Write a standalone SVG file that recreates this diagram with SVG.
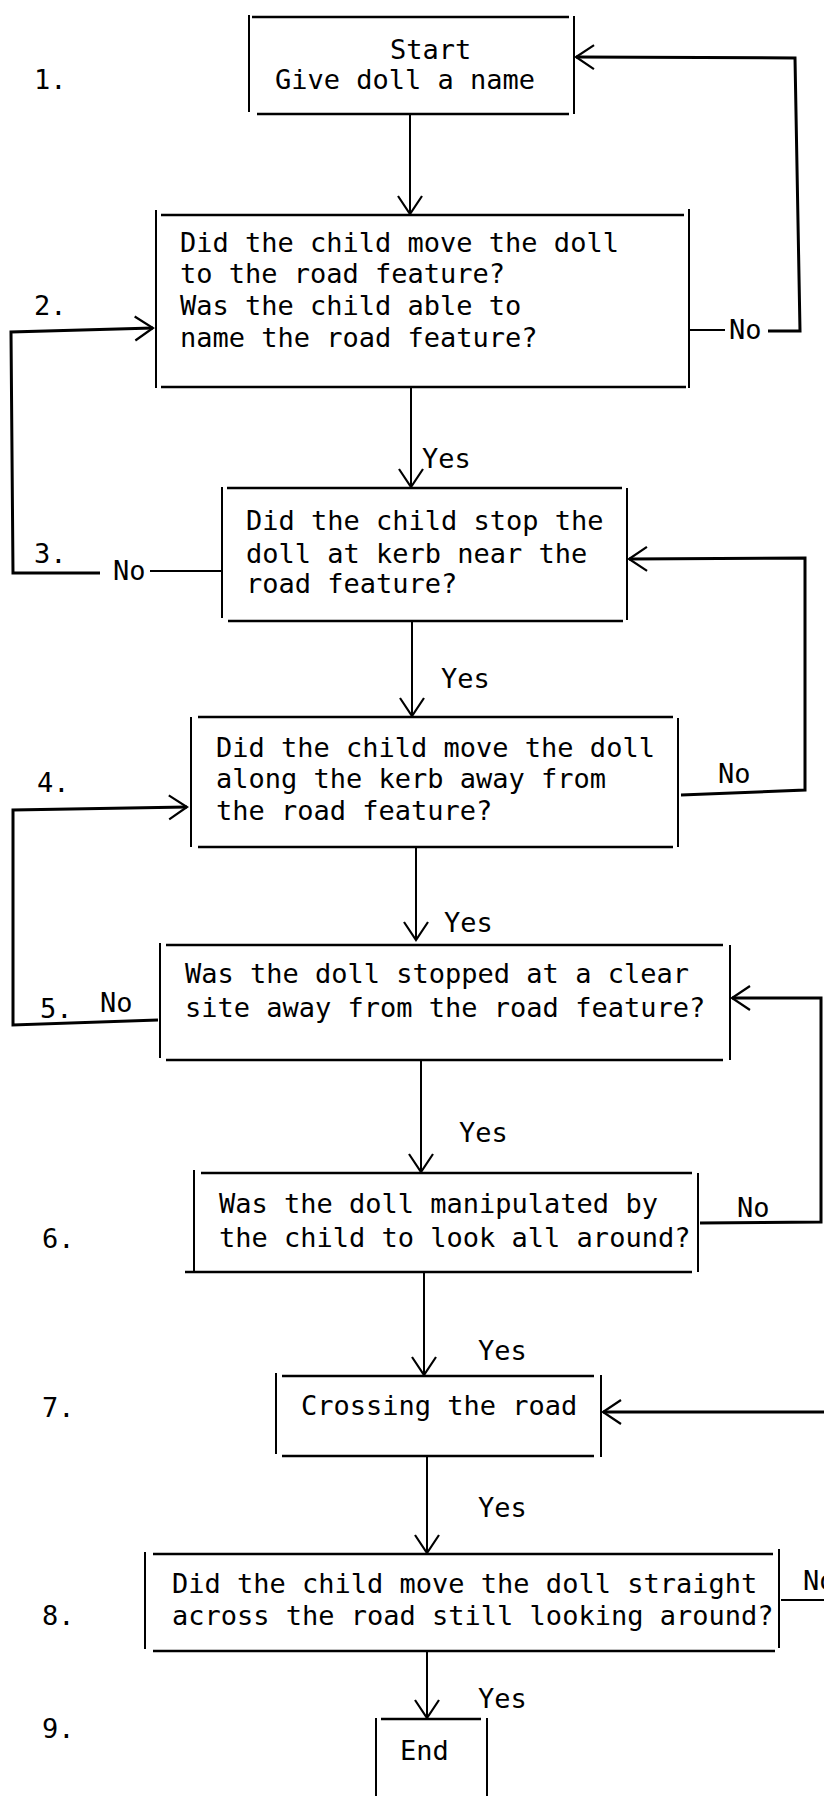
<svg xmlns="http://www.w3.org/2000/svg" width="824" height="1796" viewBox="0 0 824 1796">
<style>
text{font-family:"DejaVu Sans Mono","Liberation Mono",monospace;font-size:27px;fill:#000}
.bh{stroke:#000;stroke-width:2.6;fill:none}
.bv{stroke:#000;stroke-width:2;fill:none}
.c{stroke:#000;stroke-width:2;fill:none}
.ct{stroke:#000;stroke-width:3;fill:none}
</style>
<defs>
<marker id="ah" markerUnits="userSpaceOnUse" viewBox="-20 -16 24 32" refX="0" refY="0" markerWidth="24" markerHeight="32" orient="auto" overflow="visible">
<path d="M-18,-12 L0,0 L-18,12" fill="none" stroke="#000" stroke-width="2.2"/>
</marker>
</defs>
<rect width="824" height="1796" fill="#fff"/>
<g id="labels">
<text x="34" y="89">1.</text>
<text x="34" y="315">2.</text>
<text x="34" y="563">3.</text>
<text x="37" y="792">4.</text>
<text x="40" y="1018">5.</text>
<text x="42" y="1248">6.</text>
<text x="42" y="1417">7.</text>
<text x="42" y="1625">8.</text>
<text x="42" y="1738">9.</text>
</g>
<g id="n1">
<path class="bh" d="M252,17 H569 M257,114 H569"/>
<path class="bv" d="M249,15 V112 M574,16 V114"/>
<text x="390" y="59">Start</text>
<text x="275" y="89">Give doll a name</text>
</g>
<g id="n2">
<path class="bh" d="M161,215 H684 M161,387 H686"/>
<path class="bv" d="M156,210 V388 M689,209 V388"/>
<text x="180" y="252">Did the child move the doll</text>
<text x="180" y="283">to the road feature?</text>
<text x="180" y="315">Was the child able to</text>
<text x="180" y="347">name the road feature?</text>
</g>
<g id="n3">
<path class="bh" d="M227,488 H622 M228,621 H623"/>
<path class="bv" d="M222,487 V618 M627,488 V620"/>
<text x="246" y="530">Did the child stop the</text>
<text x="246" y="563">doll at kerb near the</text>
<text x="246" y="593">road feature?</text>
</g>
<g id="n4">
<path class="bh" d="M198,717 H673 M198,847 H673"/>
<path class="bv" d="M191,717 V847 M678,718 V847"/>
<text x="216" y="757">Did the child move the doll</text>
<text x="216" y="788">along the kerb away from</text>
<text x="216" y="820">the road feature?</text>
</g>
<g id="n5">
<path class="bh" d="M166,945 H723 M166,1060 H723"/>
<path class="bv" d="M160,943 V1058 M730,945 V1060"/>
<text x="185" y="983">Was the doll stopped at a clear</text>
<text x="185" y="1017">site away from the road feature?</text>
</g>
<g id="n6">
<path class="bh" d="M201,1173 H692 M185,1272 H692"/>
<path class="bv" d="M194,1170 V1271 M698,1173 V1272"/>
<text x="219" y="1213">Was the doll manipulated by</text>
<text x="219" y="1247">the child to look all around?</text>
</g>
<g id="n7">
<path class="bh" d="M282,1376 H594 M282,1456 H594"/>
<path class="bv" d="M276,1373 V1454 M601,1375 V1457"/>
<text x="301" y="1415">Crossing the road</text>
</g>
<g id="n8">
<path class="bh" d="M153,1554 H773 M153,1651 H775"/>
<path class="bv" d="M145,1552 V1649 M779,1549 V1648"/>
<text x="172" y="1593">Did the child move the doll straight</text>
<text x="172" y="1625">across the road still looking around?</text>
</g>
<g id="n9">
<path class="bh" d="M381,1719 H481"/>
<path class="bv" d="M376,1718 V1796 M487,1718 V1796"/>
<text x="400" y="1760">End</text>
</g>
<g id="connectors">
<path class="c" d="M410,114 V214" marker-end="url(#ah)"/>
<path class="c" d="M411,387 V487" marker-end="url(#ah)"/>
<path class="c" d="M412,621 V716" marker-end="url(#ah)"/>
<path class="c" d="M416,847 V940" marker-end="url(#ah)"/>
<path class="c" d="M421,1060 V1172" marker-end="url(#ah)"/>
<path class="c" d="M424,1272 V1375" marker-end="url(#ah)"/>
<path class="c" d="M427,1456 V1553" marker-end="url(#ah)"/>
<path class="c" d="M427,1651 V1718" marker-end="url(#ah)"/>
<path class="c" d="M689,330 H725"/>
<path class="ct" d="M768,331 H800 L795,58 L576,57" marker-end="url(#ah)"/>
<path class="c" d="M222,571 H150"/>
<path class="ct" d="M100,573 H13 L11,332 L153,328" marker-end="url(#ah)"/>
<path class="ct" d="M681,795 L805,790 V558 L629,559" marker-end="url(#ah)"/>
<path class="ct" d="M158,1020 L13,1025 V810 L187,807" marker-end="url(#ah)"/>
<path class="ct" d="M700,1223 L821,1222 V998 L732,998" marker-end="url(#ah)"/>
<path class="ct" d="M826,1412 L603,1412" marker-end="url(#ah)"/>
<path class="c" d="M781,1600 H826"/>
<text x="422" y="468">Yes</text>
<text x="441" y="688">Yes</text>
<text x="444" y="932">Yes</text>
<text x="459" y="1142">Yes</text>
<text x="478" y="1360">Yes</text>
<text x="478" y="1517">Yes</text>
<text x="478" y="1708">Yes</text>
<text x="729" y="339">No</text>
<text x="113" y="580">No</text>
<text x="718" y="783">No</text>
<text x="100" y="1012">No</text>
<text x="737" y="1217">No</text>
<text x="803" y="1590">No</text>
</g>
</svg>
